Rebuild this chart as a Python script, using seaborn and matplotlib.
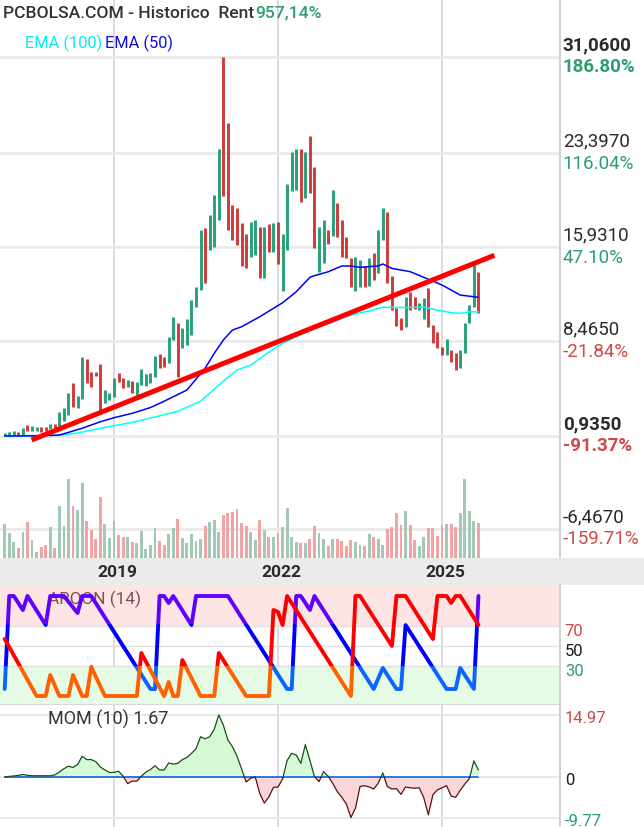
import matplotlib
matplotlib.use('Agg')
import matplotlib.pyplot as plt
import matplotlib.transforms as mtransforms
from matplotlib.patches import Rectangle
import numpy as np
import pandas as pd
import seaborn as sns

sns.set_theme(style='white')
plt.rcParams['font.family'] = ['Roboto', 'DejaVu Sans']

# monthly bars, Jan 2017 .. Sep 2025
months = pd.date_range('2017-01-01', periods=105, freq='MS')
year_labels = ['2019', '2022', '2025']

low = [0.94, 0.96, 1.01, 0.94, 1.04, 1.33, 1.36, 1.33, 1.23, 1.36,
       1.47, 1.57, 1.73, 2.15, 2.60, 3.22, 3.19, 3.88, 5.17, 4.81,
       5.70, 2.87, 3.58, 3.79, 4.06, 5.25, 4.73, 4.81, 4.38, 4.06,
       4.99, 4.91, 5.12, 5.60, 6.32, 6.44, 6.71, 8.57, 5.60, 7.90,
       8.17, 8.96, 11.21, 12.54, 13.07, 15.72, 15.98, 18.10, 20.00, 17.31,
       16.50, 16.12, 14.47, 14.26, 15.19, 15.30, 13.50, 13.47, 15.56, 15.54,
       14.61, 12.50, 15.70, 20.40, 20.50, 19.50, 19.83, 20.23, 15.85, 13.99,
       14.71, 16.20, 16.85, 16.78, 15.19, 15.06, 12.80, 12.49, 12.80, 12.80,
       12.87, 13.33, 13.86, 16.51, 13.07, 10.95, 9.68, 9.36, 9.62, 10.95,
       11.01, 10.95, 10.21, 9.62, 8.30, 7.91, 7.37, 7.37, 6.84, 6.18,
       6.32, 7.56, 9.89, 11.21, 10.69]
high = [1.20, 1.28, 1.33, 1.23, 1.55, 1.81, 1.73, 1.67, 1.65, 1.65,
        1.86, 1.89, 2.87, 3.14, 4.33, 5.12, 4.11, 7.19, 7.03, 6.05,
        6.05, 6.66, 4.59, 4.38, 5.54, 5.92, 5.52, 5.39, 5.33, 5.25,
        6.24, 5.86, 5.92, 7.29, 7.45, 7.19, 8.78, 10.42, 9.94, 9.50,
        10.21, 11.75, 12.80, 17.31, 17.49, 18.50, 20.09, 23.72, 31.06, 25.79,
        19.30, 19.04, 17.84, 17.00, 17.97, 18.10, 17.57, 17.57, 17.79, 17.84,
        17.97, 17.00, 21.00, 23.54, 23.72, 23.72, 23.54, 24.75, 22.34, 17.55,
        18.10, 17.31, 20.49, 19.43, 18.10, 16.78, 15.06, 15.19, 14.95, 14.42,
        15.05, 15.45, 17.31, 19.03, 18.76, 13.65, 11.08, 10.29, 12.01, 12.40,
        12.01, 11.48, 11.88, 12.68, 9.76, 9.23, 8.04, 8.62, 7.77, 7.51,
        7.77, 9.89, 11.35, 14.53, 14.00]
updown = ("GGGRGRGGRR" "GRGGGRGGRR" "RRGGGRRGRG" "GGGGRRGGRG" "GGGGRGGGRR"
          "RRRRGGRGRG" "RGGGGRGRRG" "GRGRRRRGGR" "GRGGRRRRGR" "RGGRRRRGRR" "GGGGR")
volume = [34, 25, 16, 10, 26, 36, 18, 6, 11, 13,
          31, 10, 52, 32, 79, 52, 48, 75, 37, 28,
          19, 61, 34, 20, 37, 23, 21, 21, 16, 15,
          27, 9, 13, 30, 17, 13, 24, 30, 39, 20,
          15, 24, 17, 19, 32, 36, 38, 26, 43, 45,
          46, 49, 35, 32, 26, 18, 38, 28, 21, 21,
          25, 31, 50, 21, 16, 15, 15, 19, 32, 25,
          19, 12, 19, 19, 17, 12, 18, 16, 13, 12,
          24, 21, 19, 13, 29, 31, 45, 33, 47, 33,
          18, 12, 21, 30, 30, 22, 33, 34, 34, 31,
          45, 79, 47, 37, 35]

ema50_at = [0, 8, 12, 17, 21, 24, 28, 32, 35, 40, 44, 46, 48, 50, 52, 54, 56, 61, 64,
            67, 68, 71, 74, 76, 78, 80, 82, 83, 85, 89, 92, 96, 100, 104]
ema50 = [0.94, 0.95, 1.01, 1.55, 2.07, 2.39, 2.74, 3.2, 3.7, 4.59, 6.32, 7.51, 8.57, 9.36,
         9.62, 10.02, 10.42, 11.53, 12.40, 13.55, 13.68, 13.99, 14.45, 14.45, 14.34, 14.40,
         14.45, 14.61, 14.26, 14.00, 13.55, 12.94, 12.14, 11.96]
ema100_at = [0, 12, 16, 21, 28, 33, 38, 43, 48, 51, 54, 58, 61, 65, 68, 72, 76, 80, 83,
             88, 92, 95, 98, 100, 102, 104]
ema100 = [0.94, 1.0, 1.17, 1.55, 2.02, 2.45, 2.9, 3.7, 5.3, 6.18, 6.57, 7.6, 8.3, 9.0,
          9.5, 10.0, 10.55, 10.88, 11.17, 11.15, 11.17, 10.95, 10.74, 10.69, 10.81, 10.81]
trend_at = [5.9, 107.5]
trend = [0.62, 15.3]

price_levels = [31.06, 23.397, 15.931, 8.465, 0.935, -6.467]
last_close = 10.83

aroon_up_at = [0, 7, 9, 10, 12, 14, 15, 17, 18, 19, 22, 29, 30, 35, 36, 37, 38, 39, 43, 46,
               47, 53, 58, 59, 60, 61, 62, 76, 77, 78, 85, 86, 88, 94, 95, 97, 98, 99, 100, 104]
aroon_up = [57, 0, 0, 21, 0, 0, 21, 0, 0, 29, 0, 0, 43, 0, 14, 0, 0, 36, 0, 0,
            43, 0, 0, 86, 84, 71, 100, 0, 100, 100, 50, 100, 100, 57, 100, 100, 93, 100, 100, 71]
aroon_dn_at = [0, 1, 2, 4, 5, 9, 10, 13, 16, 17, 19, 32, 33, 34, 35, 36, 37, 41, 42, 49,
               62, 63, 64, 65, 67, 68, 81, 83, 86, 87, 88, 97, 99, 100, 103, 104]
aroon_dn = [7, 100, 100, 86, 100, 71, 100, 100, 83, 100, 100, 7, 7, 100, 100, 93, 100, 71, 100, 100,
            7, 7, 100, 100, 86, 100, 7, 28, 7, 7, 71, 7, 7, 28, 7, 100]

mom = [0.0, 0.15, 0.25, 0.4, 0.6, 0.4, 0.3, 0.3, 0.3, 0.3,
       0.3, 0.5, 1.2, 2.0, 2.6, 2.3, 3.0, 5.0, 4.2, 4.2,
       3.7, 2.4, 1.7, 1.1, 1.1, 1.4, 0.2, -1.6, -1.0, -1.0,
       0.2, 1.2, 1.8, 2.7, 1.7, 1.7, 3.4, 3.1, 3.3, 4.2,
       4.7, 5.7, 6.8, 9.7, 9.2, 9.7, 11.5, 14.97, 12.5, 8.9,
       7.3, 5.0, 2.0, -1.2, -0.3, 0.0, -4.0, -6.3, -4.8, -2.5,
       -2.4, -0.5, 4.0, 5.7, 5.3, 3.3, 7.8, 4.0, 0.1, -1.1,
       1.3, 0.2, -1.5, -3.5, -4.9, -6.5, -9.77, -7.5, -2.3, -2.1,
       -2.4, -2.9, -1.5, 1.0, -2.3, -2.9, -2.8, -4.2, -2.4, -2.6,
       -2.7, -2.6, -5.0, -9.1, -4.3, -3.1, -2.6, -2.1, -4.6, -4.9,
       -3.2, -1.7, -0.4, 3.9, 1.67]

GREEN = '#26a078'
RED = '#d03a3a'
LBL_GREEN = '#2e9e6e'
LBL_RED = '#d04848'
GRID = '#e8e8e8'
VGRID = '#d6d6d6'

idx = np.arange(len(months))
year_pos = [list(months.year).index(int(y)) for y in year_labels]

W, H = 644, 827
fig = plt.figure(figsize=(W / 100, H / 100), dpi=100)
fig.patch.set_facecolor('white')


def box(top, bottom, left=0, right=560):
    return [left / W, 1 - bottom / H, (right - left) / W, (bottom - top) / H]


xlim = (-1.03, 121.9)
ax_p = fig.add_axes(box(0, 558))
ax_d = fig.add_axes(box(558, 585, 0, 644))
ax_a = fig.add_axes(box(585, 705))
ax_m = fig.add_axes(box(705, 827))

for ax in (ax_p, ax_a, ax_m):
    ax.set_xlim(*xlim)
    ax.set_xticks([])
    ax.set_yticks([])
    for s in ('top', 'left', 'bottom'):
        ax.spines[s].set_visible(False)
    ax.spines['right'].set_color('#d2d2d2')
    ax.spines['right'].set_linewidth(1.5)
    for p in year_pos:
        ax.axvline(p, color=VGRID, lw=1.2, zorder=0)

# ---------------- price panel ----------------
ax_p.set_ylim(-8.76, 35.593)
for lv in price_levels:
    ax_p.axhline(lv, color=GRID, lw=1.8, zorder=0)

vax = ax_p.twinx()
vax.set_ylim(0, max(volume) * 558 / 79)
vax.bar(idx, volume, width=0.62, linewidth=0, edgecolor='none',
        color=['#a3c8b5' if d == 'G' else '#f2a4a4' for d in updown], zorder=1)
vax.set_yticks([])
vax.set_xlim(*xlim)
for s in vax.spines.values():
    s.set_visible(False)

ax_p.vlines(idx, low, high, colors=[GREEN if d == 'G' else RED for d in updown],
            lw=2.1, zorder=2)
sns.lineplot(x=ema100_at, y=ema100, color='#00ffff', linewidth=1.1, ax=ax_p, zorder=3)
sns.lineplot(x=ema50_at, y=ema50, color='#0000ff', linewidth=1.1, ax=ax_p, zorder=3)
ax_p.plot(trend_at, trend, color='#ff0000', lw=3.6, solid_capstyle='butt', zorder=4)
ax_p.set_xlabel('')
ax_p.set_ylabel('')

tr = mtransforms.blended_transform_factory(ax_p.transAxes, ax_p.transData)
for lv in price_levels:
    pct = (lv / last_close - 1) * 100
    wt = 'bold' if lv in (max(price_levels), price_levels[-2]) else 'normal'
    ax_p.annotate(f"{lv:.4f}".replace('.', ','), xy=(1, lv), xycoords=tr,
                  xytext=(2.0, 8.6), textcoords='offset points', ha='left', va='center',
                  fontsize=13.5, color='#2a2a2a', fontweight=wt, annotation_clip=False)
    ax_p.annotate(f"{pct:.2f}%", xy=(1, lv), xycoords=tr,
                  xytext=(2.0, -7.4), textcoords='offset points', ha='left', va='center',
                  fontsize=13.5, color=LBL_GREEN if pct > 0 else LBL_RED, fontweight=wt,
                  annotation_clip=False)

fig.text(3 / W, 1 - 13 / H, 'PCBOLSA.COM - Historico  Rent', fontsize=12.6,
         color='#333333', va='center', ha='left', fontweight='medium')
fig.text(255 / W, 1 - 13 / H, '957,14%', fontsize=12.6, color=LBL_GREEN,
         va='center', ha='left', fontweight='medium')
fig.text(25 / W, 1 - 43 / H, 'EMA (100)', fontsize=11.8, color='#00f0f0', va='center')
fig.text(105 / W, 1 - 43 / H, 'EMA (50)', fontsize=11.8, color='#1010e0', va='center')

# ---------------- date band ----------------
ax_d.set_facecolor('#ebebeb')
ax_d.set_xlim(-1.03, 140.3)
ax_d.set_ylim(0, 1)
ax_d.set_xticks([])
ax_d.set_yticks([])
for s in ax_d.spines.values():
    s.set_visible(False)
for p, lab in zip(year_pos, year_labels):
    ax_d.text(p + 0.8, 0.45, lab, ha='center', va='center', fontsize=12.5,
              color='#2a2a2a', fontweight='bold')

# ---------------- aroon panel ----------------
ax_a.set_ylim(-9, 111)
ax_a.axhspan(70, 111, color='#fde5e5', lw=0, zorder=0)
ax_a.axhspan(-9, 30, color='#e6fbe6', lw=0, zorder=0)
for lv in (70, 50, 30):
    ax_a.axhline(lv, color='#e0e0e0', lw=1.0, zorder=0.5)
ax_a.axhline(-9, color='#d8d8d8', lw=1.5, zorder=0.5)

# label sits under the aroon lines, as in the original
ax_a.text(48 / 560, 1 - 14 / 120, 'AROON (14)', transform=ax_a.transAxes, fontsize=12.4,
          color='#6b3535', alpha=0.85, va='center', ha='left', zorder=1)


def banded(ax, xs, ys, bands, lw):
    for lo, hi, col in bands:
        ln, = ax.plot(xs, ys, color=col, lw=lw, solid_joinstyle='round', zorder=3)
        ln.set_clip_path(Rectangle((-5, lo), 200, hi - lo, transform=ax.transData))


banded(ax_a, aroon_dn_at, aroon_dn,
       [(-20, 30, '#0a64ff'), (30, 72, '#0000ff'), (72, 120, '#6200ff')], 2.8)
banded(ax_a, aroon_up_at, aroon_up,
       [(-20, 30, '#ff6000'), (30, 120, '#ff0000')], 2.8)

tra = mtransforms.blended_transform_factory(ax_a.transAxes, ax_a.transData)
for lv, col in ((70, LBL_RED), (50, '#1a1a1a'), (30, LBL_GREEN)):
    ax_a.annotate(str(lv), xy=(1, lv), xycoords=tra, xytext=(3.5, -3.6),
                  textcoords='offset points', ha='left', va='center', fontsize=12,
                  color=col, annotation_clip=False)

# ---------------- momentum panel ----------------
mom_arr = np.array(mom)
mom_max, mom_min = max(mom), min(mom)
ax_m.set_ylim(-12.05, 17.35)
for lv in (mom_max, 0, mom_min):
    ax_m.axhline(lv, color=GRID, lw=1.4, zorder=0)
ax_m.fill_between(idx, mom_arr, 0, where=mom_arr >= 0, interpolate=True,
                  color='#d6fad6', lw=0, zorder=1)
ax_m.fill_between(idx, mom_arr, 0, where=mom_arr <= 0, interpolate=True,
                  color='#fbd6d6', lw=0, zorder=1)
ax_m.plot([idx[0], idx[-1]], [0, 0], color='#1a6fe0', lw=1.3, zorder=2)
banded(ax_m, idx, mom_arr, [(0, 30, '#174f17'), (-30, 0, '#5a1010')], 0.9)

fig.text(48 / W, 1 - 719 / H, f'MOM (10) {mom[-1]:.2f}', fontsize=13, color='#333333',
         va='center')
trm = mtransforms.blended_transform_factory(ax_m.transAxes, ax_m.transData)
for lv, txt, col in ((mom_max, f'{mom_max:.2f}', LBL_RED), (0, '0', '#1a1a1a'),
                     (mom_min, f'{mom_min:.2f}', LBL_GREEN)):
    ax_m.annotate(txt, xy=(1, lv), xycoords=trm, xytext=(3.5, -2.6),
                  textcoords='offset points', ha='left', va='center', fontsize=12,
                  color=col, annotation_clip=False)

fig.savefig('out.png', dpi=100, facecolor='white')
